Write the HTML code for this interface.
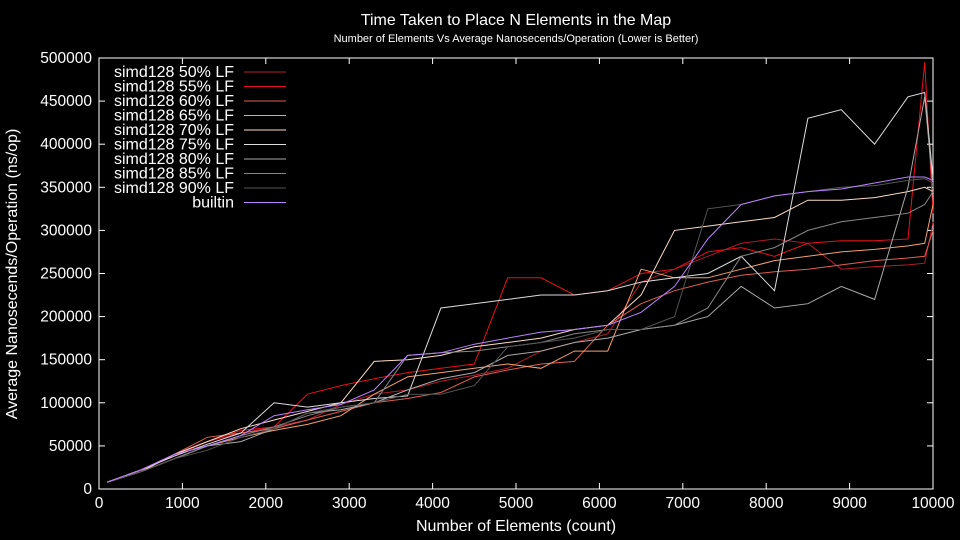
<!DOCTYPE html>
<html><head><meta charset="utf-8"><style>
html,body{margin:0;padding:0;background:#000;}
svg{display:block;font-family:"Liberation Sans",sans-serif;}
</style></head><body>
<svg id="chart" width="960" height="540">
<rect width="960" height="540" fill="#000"/>
<text x="516" y="25" fill="#fff" font-size="16" text-anchor="middle">Time Taken to Place N Elements in the Map</text>
<text x="516" y="42" fill="#fff" font-size="11" text-anchor="middle">Number of Elements Vs Average Nanosecends/Operation (Lower is Better)</text>
<text x="0" y="0" transform="translate(17,274) rotate(-90)" fill="#fff" font-size="16" text-anchor="middle">Average Nanosecends/Operation (ns/op)</text>
<text x="516" y="531" fill="#fff" font-size="16" text-anchor="middle">Number of Elements (count)</text>
<g id="axes"></g>
<g id="series"></g>
<g id="legend"></g>
</svg>
<script>
const xValues=[100,500,900,1300,1700,2100,2500,2900,3300,3700,4100,4500,4900,5300,5700,6100,6500,6900,7300,7700,8100,8500,8900,9300,9700,9900,10000];
const seriesNames=["simd128 50% LF","simd128 55% LF","simd128 60% LF","simd128 65% LF","simd128 70% LF","simd128 75% LF","simd128 80% LF","simd128 85% LF","simd128 90% LF","builtin"];
const s50=[8,22,38,55,65,72,80,98,110,115,125,132,140,160,170,180,240,255,270,285,290,285,255,258,260,262,310];
const s55=[8,22,40,55,68,72,110,120,128,135,140,145,245,245,225,230,250,255,275,280,270,285,288,288,290,495,320];
const s60=[8,20,40,60,65,70,80,90,100,105,112,130,138,145,148,190,215,230,240,248,252,255,260,265,268,270,300];
const s65=[8,20,35,50,60,68,75,85,110,130,135,140,145,140,160,160,255,245,245,255,265,270,275,278,282,285,330];
const s70=[8,20,40,55,70,80,90,100,148,150,155,165,170,175,185,190,225,300,305,310,315,335,335,338,345,350,345];
const s75=[8,22,38,52,65,100,95,100,105,108,210,215,220,225,225,230,240,245,250,270,230,430,440,400,455,460,360];
const s80=[8,20,35,50,55,70,88,92,100,115,128,135,155,160,170,175,185,190,200,235,210,215,235,220,350,455,350];
const s85=[8,20,35,50,62,72,85,95,100,155,158,160,165,170,180,185,185,190,210,270,280,300,310,315,320,330,345];
const s90=[8,20,35,45,60,70,88,95,100,110,110,120,165,170,175,185,185,200,325,330,340,345,350,352,358,360,355];
const sBuiltin=[8,22,40,50,62,85,92,98,115,155,158,168,175,182,185,190,205,235,290,330,340,345,348,355,362,362,358];
const xTicks=[0,1000,2000,3000,4000,5000,6000,7000,8000,9000,10000];
const yTicks=[0,50000,100000,150000,200000,250000,300000,350000,400000,450000,500000];

const NS="http://www.w3.org/2000/svg";
const L=99,R=933,T=58,B=489;
const xs=v=>L+(v/10000)*(R-L);
const ys=v=>B-(v/500000)*(B-T);
const allSeries=[s50,s55,s60,s65,s70,s75,s80,s85,s90,sBuiltin];
const colors=["#b31b2b","#e8101a","#e06050","#f5a070","#fcdcc8","#dddddd","#aaaaaa","#888888","#555555","#b983ff"];
function mk(tag,attrs,parent){const e=document.createElementNS(NS,tag);for(const k in attrs)e.setAttribute(k,attrs[k]);parent.appendChild(e);return e;}
const axes=document.getElementById('axes');
xTicks.forEach((t,i)=>{
  const x=xs(t);
  const l1=mk('line',{x1:x,x2:x,y1:B,y2:B-6,stroke:'#fff'},axes);
  
  
  mk('line',{x1:x,x2:x,y1:T,y2:T+6,stroke:'#fff'},axes);
  const tx=mk('text',{x:x,y:B+19,fill:'#fff','font-size':15.5,'text-anchor':'middle'},axes);
  tx.textContent=t;
  
  
});
yTicks.forEach(t=>{
  const y=ys(t);
  const l1=mk('line',{x1:L,x2:L+6,y1:y,y2:y,stroke:'#fff'},axes);
  
  
  mk('line',{x1:R,x2:R-6,y1:y,y2:y,stroke:'#fff'},axes);
  const tx=mk('text',{x:L-7,y:y+5,fill:'#fff','font-size':15.5,'text-anchor':'end'},axes);
  tx.textContent=t;
  
  
});
const frame=mk('rect',{x:L,y:T,width:R-L,height:B-T,fill:'none',stroke:'#fff'},axes);



const sg=document.getElementById('series');
const lg=document.getElementById('legend');
allSeries.forEach((arr,i)=>{
  const pts=arr.map((v,j)=>xs(xValues[j]).toFixed(1)+','+ys(v*1000).toFixed(1)).join(' ');
  const pl=mk('polyline',{points:pts,fill:'none',stroke:colors[i],'stroke-width':1},sg);
  
  
  const y=72+i*14.5;
  const tx=mk('text',{x:234,y:y+5,fill:'#fff','font-size':16,'text-anchor':'end'},lg);
  tx.textContent=seriesNames[i];
  
  
  const ln=mk('line',{x1:244,x2:286,y1:y,y2:y,stroke:colors[i]},lg);
  
  
});
</script>
</body></html>
